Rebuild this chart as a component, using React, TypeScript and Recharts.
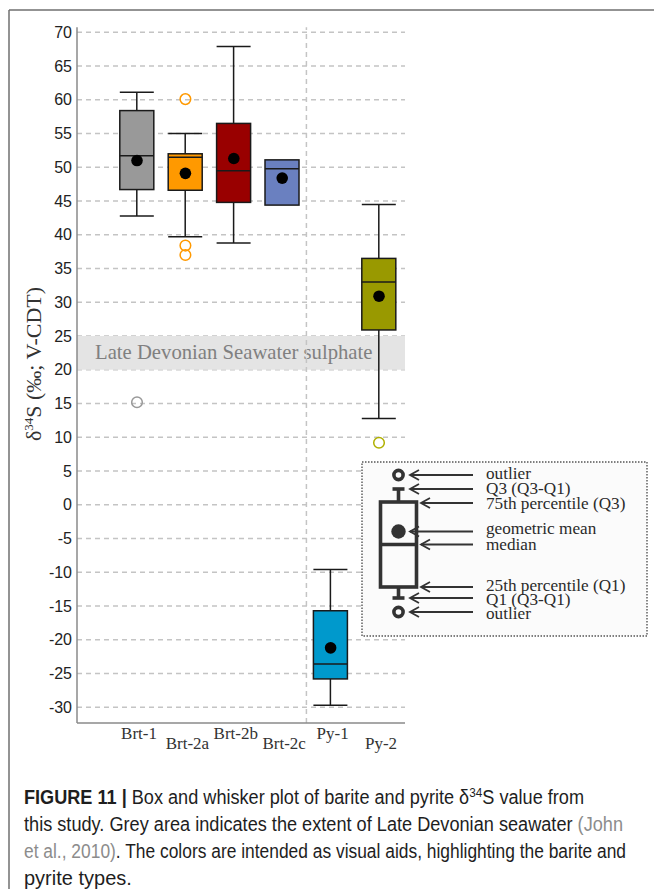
import React from 'react';
import {
  ComposedChart,
  Bar,
  Scatter,
  XAxis,
  YAxis,
  CartesianGrid,
  ReferenceArea,
  ReferenceLine,
} from 'recharts';

// ---------- data ----------
const categories = ['Brt-1', 'Brt-2a', 'Brt-2b', 'Brt-2c', 'Py-1', 'Py-2'];
const positions = [1, 2, 3, 4, 5, 6];
const whiskerLow = [42.8, 39.7, 38.8, 44.4, -29.7, 12.8];
const q1Values = [46.7, 46.6, 44.8, 44.4, -25.8, 25.9];
const medians = [51.7, 51.5, 49.5, 49.8, -23.6, 33.0];
const q3Values = [58.4, 52.0, 56.5, 51.1, -15.7, 36.5];
const whiskerHigh = [61.1, 55.0, 67.9, 51.1, -9.6, 44.5];
const geoMeans = [51.0, 49.1, 51.3, 48.4, -21.2, 30.9];
const boxColors = ['#999999', '#ff9900', '#990000', '#6a80c0', '#0099cc', '#999900'];

const outlierCategory = [0, 1, 1, 1, 5];
const outlierValues = [15.2, 60.1, 38.4, 37.0, 9.2];
const outlierColors = ['#999999', '#ff9900', '#ff9900', '#ff9900', '#b0b000'];

const yTicks = [-30, -25, -20, -15, -10, -5, 0, 5, 10, 15, 20, 25, 30, 35, 40, 45, 50, 55, 60, 65, 70];
const seawaterBand = [20, 25];
const seawaterLabel = 'Late Devonian Seawater sulphate';
const groupDivider = 4.5;

const legendItems = [
  { label: 'outlier', kind: 'outer' },
  { label: 'Q3 (Q3-Q1)', kind: 'outer' },
  { label: '75th percentile (Q3)', kind: 'inner' },
  { label: 'geometric mean', kind: 'outer' },
  { label: 'median', kind: 'inner' },
  { label: '25th percentile (Q1)', kind: 'inner' },
  { label: 'Q1 (Q3-Q1)', kind: 'outer' },
  { label: 'outlier', kind: 'outer' },
];

// ---------- derived tables ----------
const boxData = categories.map((c, i) => ({
  name: c,
  x: positions[i],
  range: [whiskerLow[i], whiskerHigh[i]],
  q1: q1Values[i],
  median: medians[i],
  q3: q3Values[i],
  mean: geoMeans[i],
  fill: boxColors[i],
}));

const outlierData = outlierValues.map((v, i) => ({
  x: positions[outlierCategory[i]],
  y: v,
  color: outlierColors[i],
}));

const SERIF = '"Liberation Serif", "Times New Roman", Times, serif';
const SANS = '"Liberation Sans", Arial, Helvetica, sans-serif';
const NARROW = '"Liberation Sans Narrow", "Liberation Sans", Arial, sans-serif';
const GRID = '#c4c4c4';

const BoxShape = (props: any) => {
  const { x, y, width, height, payload } = props;
  if (x == null || y == null) return null;
  const [lo, hi] = payload.range;
  const top = Math.min(y, y + height);
  const bottom = Math.max(y, y + height);
  const span = hi - lo;
  const py = (v: number) => top + ((hi - v) / span) * (bottom - top);
  const cx = x + width / 2;
  const yQ1 = py(payload.q1);
  const yQ3 = py(payload.q3);
  const yMed = py(payload.median);
  const stroke = '#1a1a1a';
  return (
    <g>
      {hi > payload.q3 && (
        <>
          <line x1={cx} x2={cx} y1={top} y2={yQ3} stroke={stroke} strokeWidth={1.5} />
          <line x1={x} x2={x + width} y1={top} y2={top} stroke={stroke} strokeWidth={1.5} />
        </>
      )}
      {lo < payload.q1 && (
        <>
          <line x1={cx} x2={cx} y1={yQ1} y2={bottom} stroke={stroke} strokeWidth={1.5} />
          <line x1={x} x2={x + width} y1={bottom} y2={bottom} stroke={stroke} strokeWidth={1.5} />
        </>
      )}
      <rect x={x} y={yQ3} width={width} height={yQ1 - yQ3} fill={payload.fill} stroke={stroke} strokeWidth={1.5} />
      <line x1={x} x2={x + width} y1={yMed} y2={yMed} stroke={stroke} strokeWidth={1.5} />
    </g>
  );
};

const MeanDot = (props: any) => {
  const { cx, cy } = props;
  if (cx == null || cy == null) return null;
  return <circle cx={cx} cy={cy} r={5.8} fill="#000" />;
};

const OutlierDot = (props: any) => {
  const { cx, cy, payload } = props;
  if (cx == null || cy == null) return null;
  return <circle cx={cx} cy={cy} r={5.3} fill="none" stroke={payload.color} strokeWidth={1.5} />;
};

const XTick = (props: any) => {
  const { x, y, payload, index } = props;
  const label = categories[positions.indexOf(payload.value)] ?? '';
  const dy = index % 2 === 0 ? 16 : 26;
  return (
    <text x={x + 2} y={y + dy} textAnchor="middle" fontFamily={SERIF} fontSize={17} fill="#333">
      {label}
    </text>
  );
};

const BandLabel = (props: any) => {
  const vb = props.viewBox || {};
  return (
    <text
      x={(vb.x ?? 0) + 18}
      y={(vb.y ?? 0) + (vb.height ?? 0) / 2 + 6}
      fontFamily={SERIF}
      fontSize={20.7}
      fill="#808080"
    >
      {seawaterLabel}
    </text>
  );
};

const Legend = () => {
  const bx = 362;
  const by = 462;
  const cx = 398.5;
  const ys = [475, 489, 503, 531.5, 544.5, 587, 598, 612];
  const textY = [479, 494, 508.5, 533.5, 550, 590.5, 604.5, 618.5];
  return (
    <g>
      <rect x={bx} y={by} width={285} height={174} fill="#fbfbfb" stroke="#555" strokeWidth={1.4} strokeDasharray="1.5 1.5" />
      <g stroke="#333" strokeWidth={3.6} fill="none">
        <circle cx={cx} cy={475} r={4.6} />
        <line x1={cx - 6} x2={cx + 6} y1={489} y2={489} />
        <line x1={cx} x2={cx} y1={489} y2={502} />
        <rect x={380.5} y={502} width={36} height={85} />
        <line x1={380.5} x2={416.5} y1={544.5} y2={544.5} />
        <line x1={cx} x2={cx} y1={587} y2={598} />
        <line x1={cx - 6} x2={cx + 6} y1={598} y2={598} />
        <circle cx={cx} cy={612} r={4.6} />
      </g>
      <circle cx={cx} cy={531.5} r={7.2} fill="#333" />
      <g stroke="#333" strokeWidth={1.8} fill="none">
        {legendItems.map((it, i) => {
          const tip = it.kind === 'inner' ? 421 : 410;
          const y = ys[i];
          return (
            <g key={i}>
              <line x1={tip} x2={473} y1={y} y2={y} />
              <polyline points={`${tip + 9},${y - 5} ${tip},${y} ${tip + 9},${y + 5}`} />
            </g>
          );
        })}
      </g>
      {legendItems.map((it, i) => (
        <text key={i} x={486} y={textY[i]} fontFamily={SERIF} fontSize={17.2} fill="#2a2a2a">
          {it.label}
        </text>
      ))}
    </g>
  );
};

const Overlay = () => (
  <svg width={654} height={889} style={{ position: 'absolute', left: 0, top: 0, pointerEvents: 'none' }}>
    <line x1={9} x2={654} y1={10} y2={10} stroke="#6f6f6f" strokeWidth={1.5} />
    <line x1={9} x2={9} y1={10} y2={889} stroke="#6f6f6f" strokeWidth={1.5} />
    <text transform="translate(41,364) rotate(-90)" textAnchor="middle" fontFamily={SERIF} fontSize={22} fill="#333">
      δ<tspan dy={-8} fontSize={13}>34</tspan>
      <tspan dy={8}>S (‰; V-CDT)</tspan>
    </text>
    <Legend />
    <g fontFamily={NARROW} fontSize={20} fill="#1e1e1e">
      <text x={24} y={804} textLength={560} lengthAdjust="spacingAndGlyphs">
        <tspan fontWeight="bold">FIGURE 11 |</tspan>
        <tspan> Box and whisker plot of barite and pyrite δ</tspan>
        <tspan dy={-7} fontSize={13}>34</tspan>
        <tspan dy={7}>S value from</tspan>
      </text>
      <text x={24} y={831} textLength={599} lengthAdjust="spacingAndGlyphs">
        <tspan>this study. Grey area indicates the extent of Late Devonian seawater </tspan>
        <tspan fill="#8c8c8c">(John</tspan>
      </text>
      <text x={24} y={858} textLength={602} lengthAdjust="spacingAndGlyphs">
        <tspan fill="#8c8c8c">et al., 2010)</tspan>
        <tspan>. The colors are intended as visual aids, highlighting the barite and</tspan>
      </text>
      <text x={24} y={885}>pyrite types.</text>
    </g>
  </svg>
);

export default function App() {
  return (
    <div style={{ position: 'absolute', left: 0, top: 0, width: 654, height: 889, background: '#fff', overflow: 'hidden' }}>
      <ComposedChart
        width={654}
        height={780}
        data={boxData}
        margin={{ top: 27.3, right: 249, bottom: 17, left: 0 }}
      >
        <ReferenceArea y1={seawaterBand[0]} y2={seawaterBand[1]} fill="#e4e4e4" fillOpacity={1} stroke="none" label={BandLabel} />
        <CartesianGrid
          horizontal
          vertical={false}
          horizontalValues={yTicks}
          stroke={GRID}
          strokeWidth={1.5}
          strokeDasharray="5 4"
        />
        <ReferenceLine x={groupDivider} stroke={GRID} strokeWidth={1.5} strokeDasharray="5 4" />
        <XAxis
          type="number"
          dataKey="x"
          domain={[-0.2397, 6.537]}
          allowDataOverflow
          ticks={positions}
          interval={0}
          tickLine={false}
          tickSize={0}
          tickMargin={0}
          height={40}
          axisLine={{ stroke: '#8a8a8a', strokeWidth: 1.5 }}
          tick={<XTick />}
        />
        <YAxis
          type="number"
          domain={[-32.33, 70.74]}
          allowDataOverflow
          ticks={yTicks}
          interval={0}
          width={77}
          tickLine={false}
          tickSize={0}
          tickMargin={5}
          axisLine={{ stroke: '#8a8a8a', strokeWidth: 1.5 }}
          tick={{ fontFamily: SANS, fontSize: 16, fill: '#222' }}
        />
        <Bar dataKey="range" barSize={34} shape={<BoxShape />} isAnimationActive={false} />
        <Scatter dataKey="mean" shape={<MeanDot />} isAnimationActive={false} />
        <Scatter data={outlierData} dataKey="y" shape={<OutlierDot />} isAnimationActive={false} />
      </ComposedChart>
      <Overlay />
    </div>
  );
}
